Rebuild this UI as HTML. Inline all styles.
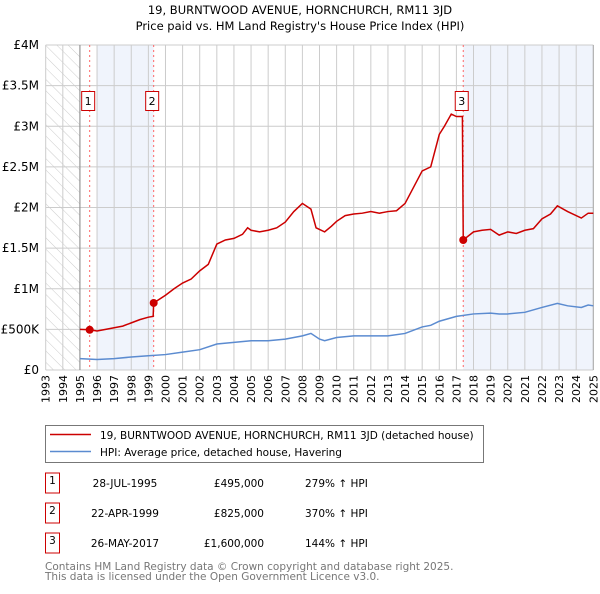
<!DOCTYPE html>
<html><head><meta charset="utf-8"><style>
body{margin:0;background:#fff;width:600px;height:590px;overflow:hidden;font-family:"DejaVu Sans","Liberation Sans",sans-serif}
svg text{font-family:"DejaVu Sans","Liberation Sans",sans-serif}
</style></head><body>
<svg id="chart" width="600" height="590" xmlns="http://www.w3.org/2000/svg">
<defs><pattern id="hatch" width="8" height="8" patternUnits="userSpaceOnUse" patternTransform="rotate(-45)"><line x1="0" y1="0" x2="0" y2="8" stroke="#ccc" stroke-width="1"/></pattern></defs>
<text x="300" y="14" font-size="11.5" text-anchor="middle">19, BURNTWOOD AVENUE, HORNCHURCH, RM11 3JD</text>
<text x="300" y="30" font-size="11.5" text-anchor="middle">Price paid vs. HM Land Registry's House Price Index (HPI)</text>
<g id="plot"></g>
<rect x="45.5" y="425.5" width="438" height="37" fill="#fff" stroke="#777"/>
<line x1="50" y1="434.5" x2="91" y2="434.5" stroke="#cc0000" stroke-width="1.5"/>
<text x="100" y="439" font-size="10.5">19, BURNTWOOD AVENUE, HORNCHURCH, RM11 3JD (detached house)</text>
<line x1="50" y1="451.5" x2="91" y2="451.5" stroke="#5b8bd0" stroke-width="1.5"/>
<text x="100" y="456" font-size="10.5">HPI: Average price, detached house, Havering</text>
<g id="table" font-size="10.5"></g>
<text x="45" y="570" font-size="10.5" fill="#777">Contains HM Land Registry data © Crown copyright and database right 2025.</text>
<text x="45" y="580" font-size="10.5" fill="#777">This data is licensed under the Open Government Licence v3.0.</text>
</svg>
<script>
const yearTicks=[1993,1994,1995,1996,1997,1998,1999,2000,2001,2002,2003,2004,2005,2006,2007,2008,2009,2010,2011,2012,2013,2014,2015,2016,2017,2018,2019,2020,2021,2022,2023,2024,2025];
const priceTicks=[0,0.5,1,1.5,2,2.5,3,3.5,4];
const priceTickLabels=["£0","£500K","£1M","£1.5M","£2M","£2.5M","£3M","£3.5M","£4M"];
const redYears=[1995,1995.57,1996,1996.5,1997,1997.5,1998,1998.5,1999,1999.28,1999.31,2000,2000.5,2001,2001.5,2002,2002.5,2003,2003.5,2004,2004.5,2004.8,2005,2005.5,2006,2006.5,2007,2007.5,2008,2008.5,2008.8,2009,2009.3,2009.7,2010,2010.5,2011,2011.5,2012,2012.5,2013,2013.5,2014,2014.5,2015,2015.5,2016,2016.3,2016.7,2017,2017.35,2017.4,2018,2018.5,2019,2019.5,2020,2020.5,2021,2021.5,2022,2022.5,2022.9,2023.5,2024.3,2024.7,2025];
const redValues=[0.50,0.495,0.48,0.50,0.52,0.54,0.58,0.62,0.65,0.66,0.825,0.92,1.0,1.07,1.12,1.22,1.3,1.55,1.6,1.62,1.67,1.75,1.72,1.7,1.72,1.75,1.82,1.95,2.05,1.98,1.75,1.73,1.7,1.77,1.83,1.9,1.92,1.93,1.95,1.93,1.95,1.96,2.05,2.25,2.45,2.5,2.9,3.0,3.15,3.12,3.12,1.6,1.7,1.72,1.73,1.66,1.7,1.68,1.72,1.74,1.86,1.92,2.02,1.95,1.87,1.93,1.93];
const hpiYears=[1995,1996,1997,1998,1999,2000,2001,2002,2003,2004,2005,2006,2007,2008,2008.5,2009,2009.3,2010,2011,2012,2013,2014,2015,2015.5,2016,2017,2018,2019,2019.5,2020,2021,2022,2022.9,2023.5,2024.3,2024.7,2025];
const hpiValues=[0.14,0.13,0.14,0.16,0.175,0.19,0.22,0.25,0.32,0.34,0.36,0.36,0.38,0.42,0.45,0.38,0.36,0.4,0.42,0.42,0.42,0.45,0.53,0.55,0.6,0.66,0.69,0.7,0.69,0.69,0.71,0.77,0.82,0.79,0.77,0.8,0.79];
const saleYears=[1995.57,1999.31,2017.4];
const saleValues=[0.495,0.825,1.6];
const saleLabels=["1","2","3"];
const saleDates=["28-JUL-1995","22-APR-1999","26-MAY-2017"];
const salePrices=["£495,000","£825,000","£1,600,000"];
const saleHpi=["279% ↑ HPI","370% ↑ HPI","144% ↑ HPI"];

const NS="http://www.w3.org/2000/svg";
const X0=45.7,X1=593.3,Y0=370,Y1=45;
function xs(y){return X0+(y-1993)/(2025-1993)*(X1-X0);}
function ys(v){return Y0-(v/4)*(Y0-Y1);}
const plot=document.getElementById('plot');
function mk(tag,attrs,parent){const e=document.createElementNS(NS,tag);for(const k in attrs)e.setAttribute(k,attrs[k]);(parent||plot).appendChild(e);return e;}

let e;
e=mk('rect',{x:xs(1993),y:Y1,width:xs(1995)-xs(1993),height:Y0-Y1,fill:'url(#hatch)'});


e=mk('rect',{x:xs(1996),y:Y1,width:xs(saleYears[1])-xs(1996),height:Y0-Y1,fill:'#f0f4fc'});


e=mk('rect',{x:xs(saleYears[2]),y:Y1,width:X1-xs(saleYears[2]),height:Y0-Y1,fill:'#f0f4fc'});



yearTicks.forEach(yr=>{
  e=mk('line',{x1:xs(yr),y1:Y1,x2:xs(yr),y2:Y0,stroke:'#ccc','stroke-width':1});
  
  
  e=mk('text',{x:0,y:0,'font-size':11,'text-anchor':'end',transform:`translate(${xs(yr)+4},${Y0+5}) rotate(-90)`});
  e.textContent=yr;
  
  
});
priceTicks.forEach((v,i)=>{
  e=mk('line',{x1:X0,y1:ys(v),x2:X1,y2:ys(v),stroke:'#ccc','stroke-width':1});
  
  
  e=mk('text',{x:39,y:ys(v)+4,'font-size':12,'text-anchor':'end'});
  e.textContent=priceTickLabels[i];
  
  
});
e=mk('line',{x1:xs(1995),y1:Y1,x2:xs(1995),y2:Y0,stroke:'#888'});


e=mk('line',{x1:X1,y1:Y1,x2:X1,y2:Y0,stroke:'#aaa'});



saleYears.forEach((yr,i)=>{
  e=mk('line',{x1:xs(yr),y1:Y1,x2:xs(yr),y2:Y0,stroke:'#f66','stroke-width':1,'stroke-dasharray':'2,3'});
  
  
});

e=mk('polyline',{points:hpiYears.map((y,i)=>xs(y)+','+ys(hpiValues[i])).join(' '),fill:'none',stroke:'#5b8bd0','stroke-width':1.5});


e=mk('polyline',{points:redYears.map((y,i)=>xs(y)+','+ys(redValues[i])).join(' '),fill:'none',stroke:'#cc0000','stroke-width':1.5});



saleYears.forEach((yr,i)=>{
  e=mk('circle',{cx:xs(yr),cy:ys(saleValues[i]),r:4,fill:'#cc0000'});
  
  
  e=mk('rect',{x:xs(yr)-8,y:91.5,width:13,height:19,fill:'#fff',stroke:'#cc0000'});
  
  
  e=mk('text',{x:xs(yr)-1.5,y:105,'font-size':11,'text-anchor':'middle'});
  e.textContent=saleLabels[i];
  
  
});

const tbl=document.getElementById('table');
const rowY=[483,513,543];
saleLabels.forEach((l,i)=>{
  const cy=rowY[i];
  e=mk('rect',{x:45.5,y:cy-10,width:14,height:20,fill:'#fff',stroke:'#cc0000'},tbl);
  
  
  e=mk('text',{x:52.5,y:cy+1,'text-anchor':'middle'},tbl);e.textContent=l;
  
  
  e=mk('text',{x:125,y:cy+4,'text-anchor':'middle'},tbl);e.textContent=saleDates[i];
  
  
  e=mk('text',{x:264,y:cy+4,'text-anchor':'end'},tbl);e.textContent=salePrices[i];
  
  
  e=mk('text',{x:305,y:cy+4},tbl);e.textContent=saleHpi[i];
  
  
});
</script>
</body></html>
